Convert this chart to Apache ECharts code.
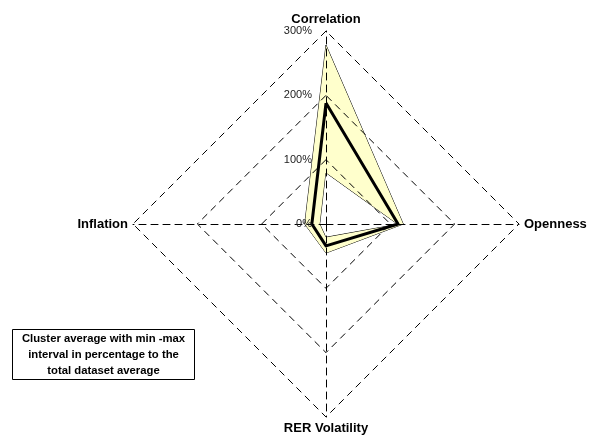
<!DOCTYPE html>
<html>
<head>
<meta charset="utf-8">
<script src="https://cdn.jsdelivr.net/npm/echarts@6/dist/echarts.min.js"></script>
<style>
  html, body { margin: 0; padding: 0; background: #fff; }
  #container { width: 591px; height: 447px; }
</style>
</head>
<body>
<div id="container"></div>
<script>
// Dados do gráfico (ordem anti-horária a partir do topo)
var indicators = ['Correlation', 'Inflation', 'RER Volatility', 'Openness'];
var maxValues = [278, 33, 45, 120];
var meanValues = [188, 22, 34, 112];
var minValues = [79, 9, 20, 110];
var tickLabels = [0, 100, 200, 300];
var boxText = ['Cluster average with min -max', 'interval in percentage to the', 'total dataset average'];

var dom = document.getElementById('container');
var myChart = echarts.init(dom, null, { renderer: 'canvas' });

var cx = 326, cy = 224, r = 193;
var dash = [7, 5];

var option = {
    animation: false,
    textStyle: { fontFamily: 'Liberation Sans, Arial, sans-serif' },
    radar: {
        z: 3,
        center: [cx, cy],
        radius: r,
        startAngle: 90,
        shape: 'polygon',
        splitNumber: 3,
        indicator: indicators.map(function (n) { return { name: n, min: 0, max: 300 }; }),
        axisName: { color: '#000', fontWeight: 'bold', fontSize: 13 },
        nameGap: 5,
        axisLine: { lineStyle: { color: '#000', type: dash, width: 1 } },
        splitLine: { lineStyle: { color: '#000', type: dash, width: 1 } },
        splitArea: { show: false },
        axisTick: { show: false },
        axisLabel: { show: false }
    },
    // eixo invisível só para os rótulos de porcentagem
    grid: { left: cx, top: cy - r, width: 1, height: r, z: 10 },
    xAxis: { type: 'value', show: false },
    yAxis: {
        type: 'value',
        z: 10,
        min: 0, max: 300, interval: 100,
        axisLine: { show: false },
        axisTick: { show: false },
        splitLine: { show: false },
        axisLabel: {
            formatter: '{value}%', color: '#222', fontSize: 11, margin: 14,
            customValues: tickLabels
        }
    },
    series: [{
        type: 'radar',
        symbol: 'none',
        z: 1,
        data: [
            { value: maxValues, name: 'Max', lineStyle: { color: '#000', width: 1, opacity: 1 }, areaStyle: { color: '#FFFFCC', opacity: 1 } },
            { value: minValues, name: 'Min', lineStyle: { color: '#000', width: 1, opacity: 1 }, areaStyle: { color: '#FFFFFF', opacity: 1 } },
            { value: meanValues, name: 'Average', lineStyle: { color: '#000', width: 3, opacity: 1 } }
        ]
    }],
    graphic: [{
        type: 'group',
        left: 12, top: 329,
        children: [
            { type: 'rect', shape: { x: 0, y: 0, width: 182, height: 50 }, style: { fill: '#fff', stroke: '#000', lineWidth: 1 } },
            {
                type: 'text', x: 91, y: 25,
                style: {
                    text: boxText.join('\n'), align: 'center', verticalAlign: 'middle',
                    font: 'bold 11.3px "Liberation Sans", Arial, sans-serif', lineHeight: 16, fill: '#000'
                }
            }
        ]
    }]
};

myChart.setOption(option);

window.addEventListener('resize', function () {
    myChart.resize();
});
</script>
</body>
</html>
